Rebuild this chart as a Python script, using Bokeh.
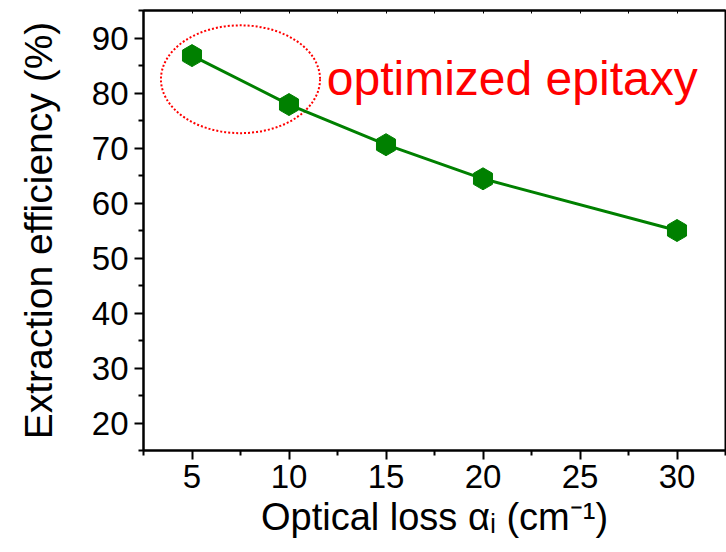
import math
from bokeh.plotting import figure
from bokeh.models import LinearAxis, FixedTicker, Label, Range1d
from bokeh.embed import file_html
from bokeh.resources import INLINE

# data
loss = [5, 10, 15, 20, 30]
efficiency = [86.8, 77.9, 70.6, 64.4, 55.0]
x_ticks = [5, 10, 15, 20, 25, 30]
y_ticks = [20, 30, 40, 50, 60, 70, 80, 90]
annotation_text = "optimized epitaxy"
x_label = "Optical loss \u03b1\u1d62 (cm\u207b\u00b9)"
y_label = "Extraction efficiency (%)"

FONT = "Liberation Sans"
GREEN = "#008000"

p = figure(width=726, height=552, x_range=Range1d(2.5, 32.5), y_range=Range1d(15, 95),
           output_backend="svg", toolbar_location=None,
           min_border_left=143, min_border_right=1, min_border_top=10, min_border_bottom=102)
p.grid.visible = False
p.outline_line_color = "black"
p.outline_line_width = 2
p.background_fill_color = "white"
p.border_fill_color = "white"

xt = FixedTicker(ticks=x_ticks, minor_ticks=[2.5 + 5 * i for i in range(7)])
yt = FixedTicker(ticks=y_ticks, minor_ticks=[15 + 10 * i for i in range(9)])

for ax in (p.xaxis[0], p.yaxis[0]):
    ax.axis_line_width = 2
    ax.major_tick_line_width = 2
    ax.minor_tick_line_width = 2
    ax.major_tick_in = 0
    ax.minor_tick_in = 0
    ax.major_tick_out = 9
    ax.minor_tick_out = 5
    ax.major_label_text_font = FONT
    ax.major_label_text_font_size = "33px"
    ax.major_label_text_color = "black"
    ax.axis_label_text_font = FONT
    ax.axis_label_text_font_style = "normal"
    ax.axis_label_text_color = "black"

p.xaxis[0].ticker = xt
p.yaxis[0].ticker = yt
p.xaxis[0].axis_label = x_label
p.yaxis[0].axis_label = y_label
p.xaxis[0].axis_label_text_font_size = "38px"
p.yaxis[0].axis_label_text_font_size = "39px"
p.xaxis[0].major_label_standoff = 5
p.yaxis[0].major_label_standoff = 6
p.xaxis[0].axis_label_standoff = 5
p.yaxis[0].axis_label_standoff = 29

# top axis: ticks only (all drawn as minor ticks, so no labels)
top_ticker = FixedTicker(ticks=[], minor_ticks=[2.5 + 2.5 * i for i in range(13)])
top = LinearAxis(ticker=top_ticker, major_label_text_font_size="0px",
                 major_tick_in=0, major_tick_out=0, minor_tick_in=3, minor_tick_out=0,
                 axis_line_width=2, minor_tick_line_width=1)
p.add_layout(top, "above")

p.ellipse(x=7.5, y=82.5, width=8.2, height=19.6, fill_color=None,
          line_color="red", line_width=2, line_dash="2 2")

p.line(loss, efficiency, line_color=GREEN, line_width=3)
p.scatter(loss, efficiency, marker="hex", size=22, angle=math.pi / 2,
          fill_color=GREEN, line_color=GREEN)

p.add_layout(Label(x=11.95, y=82.6, text=annotation_text, text_font=FONT,
                   text_font_size="48px", text_color="red", text_baseline="alphabetic"))

open("out.html", "w").write(file_html(p, INLINE))
